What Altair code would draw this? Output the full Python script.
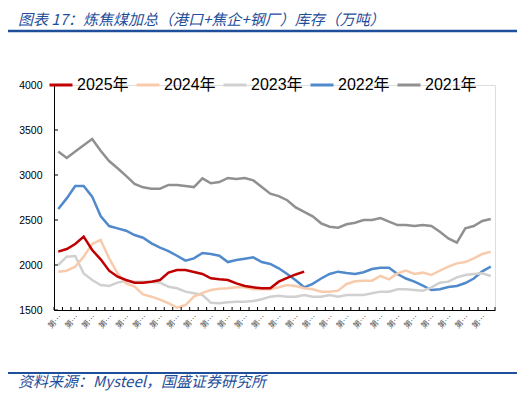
import altair as alt
import pandas as pd

weeks = [f"第{i}周" for i in range(1, 53)]
years = ["2025年", "2024年", "2023年", "2022年", "2021年"]
colors = ["#C00000", "#F8CBAD", "#D0D0D0", "#5089CC", "#909090"]

y2021 = [3260, 3190, 3260, 3330, 3400, 3270, 3155, 3075, 2990, 2900,
         2863, 2848, 2848, 2890, 2890, 2878, 2866, 2963, 2908, 2922,
         2967, 2955, 2967, 2940, 2866, 2792, 2765, 2720, 2640, 2590,
         2540, 2463, 2426, 2415, 2452, 2470, 2500, 2500, 2522, 2481,
         2444, 2444, 2433, 2444, 2433, 2370, 2296, 2248, 2407, 2433,
         2489, 2511]
y2022 = [2622, 2740, 2878, 2878, 2760, 2544, 2433, 2407, 2381, 2333,
         2303, 2241, 2192, 2155, 2103, 2048, 2074, 2133, 2122, 2103,
         2033, 2055, 2070, 2085, 2033, 2011, 1963, 1900, 1830, 1752,
         1790, 1850, 1900, 1926, 1910, 1900, 1920, 1955, 1970, 1970,
         1900, 1850, 1815, 1770, 1722, 1730, 1755, 1767, 1800, 1850,
         1930, 1981]
y2023 = [2000, 2093, 2100, 1907, 1833, 1778, 1767, 1804, 1826, 1815,
         1815, 1815, 1804, 1759, 1741, 1704, 1685, 1667, 1581, 1574,
         1585, 1593, 1593, 1600, 1619, 1648, 1659, 1648, 1648, 1667,
         1648, 1648, 1667, 1648, 1667, 1667, 1667, 1685, 1704, 1704,
         1730, 1730, 1722, 1715, 1752, 1804, 1815, 1863, 1889, 1900,
         1907, 1878]
y2024 = [1926, 1937, 1981, 2093, 2233, 2278, 2074, 1907, 1796, 1759,
         1674, 1648, 1615, 1575, 1525, 1555, 1650, 1690, 1722, 1737,
         1741, 1752, 1752, 1730, 1730, 1730, 1752, 1778, 1767, 1741,
         1730, 1704, 1704, 1715, 1789, 1819, 1826, 1826, 1878, 1841,
         1907, 1937, 1900, 1915, 1889, 1937, 1981, 2018, 2033, 2074,
         2122, 2148]
y2025 = [2148, 2178, 2233, 2315, 2167, 2063, 1937, 1870, 1833, 1804,
         1804, 1815, 1833, 1915, 1944, 1944, 1922, 1900, 1852, 1841,
         1833, 1796, 1767, 1752, 1741, 1741, 1815, 1858, 1895, 1926]

yticks = [1500, 2000, 2500, 3000, 3500, 4000]
title_text = "图表 17：炼焦煤加总（港口+焦企+钢厂）库存（万吨）"
source_text = "资料来源：Mysteel，国盛证券研究所"

series = {"2021年": y2021, "2022年": y2022, "2023年": y2023,
          "2024年": y2024, "2025年": y2025}
rows = []
for yr in ["2021年", "2022年", "2023年", "2024年", "2025年"]:
    for w, v in zip(weeks, series[yr]):
        rows.append({"week": w, "year": yr, "value": v})
df = pd.DataFrame(rows)

W, H = 441, 225
BLUE = "#1F4E9A"
LATIN = "Liberation Sans, Noto Sans CJK SC"
CJK = "Noto Sans CJK SC"

xscale = alt.Scale(type="band", domain=weeks, paddingInner=0, paddingOuter=0)
yscale = alt.Scale(domain=[1500, 4000], nice=False, zero=False)
xaxis = alt.Axis(values=weeks[::2], labelAngle=-45, labelFontSize=8,
                 labelLimit=16, labelColor="#595959", ticks=False,
                 domainColor="#000000", domainWidth=1, labelPadding=3,
                 title=None, labelFont=CJK, grid=False)
yaxis = alt.Axis(values=yticks, ticks=False, labelPadding=12, format="d",
                 domainColor="#000000", domainWidth=1, labelFontSize=10.5,
                 labelColor="#000000", title=None, grid=False,
                 labelFont=LATIN)

lines = alt.Chart(df).mark_line(strokeWidth=2.5).encode(
    x=alt.X("week:N", scale=xscale, sort=weeks, axis=xaxis),
    y=alt.Y("value:Q", scale=yscale, axis=yaxis),
    color=alt.Color("year:N", scale=alt.Scale(domain=years, range=colors),
                    legend=alt.Legend(orient="none", legendX=-6, legendY=-13,
                                      direction="horizontal", title=None,
                                      symbolType="stroke", symbolStrokeWidth=3,
                                      symbolSize=529, labelFontSize=16,
                                      labelFont=LATIN, labelColor="#000000",
                                      labelOffset=3, columnPadding=1)),
)

xt = alt.Chart(pd.DataFrame({"week": weeks})).mark_rule(color="#000000", strokeWidth=1).encode(
    x=alt.X("week:N", scale=xscale, bandPosition=0, axis=xaxis),
    y=alt.value(H - 3), y2=alt.value(H))
xt_end = alt.Chart(pd.DataFrame({"week": weeks[-1:]})).mark_rule(color="#000000", strokeWidth=1).encode(
    x=alt.X("week:N", scale=xscale, bandPosition=1, axis=xaxis),
    y=alt.value(H - 3), y2=alt.value(H))
yt = alt.Chart(pd.DataFrame({"value": yticks})).mark_rule(color="#000000", strokeWidth=1).encode(
    y=alt.Y("value:Q", scale=yscale, axis=yaxis),
    x=alt.value(0), x2=alt.value(4))

title = alt.Chart(pd.DataFrame({"t": [title_text]})).mark_text(
    align="left", baseline="middle", fontSize=15, fontStyle="italic",
    color=BLUE, font=CJK).encode(x=alt.value(-36), y=alt.value(-65), text="t:N")
top_rule = alt.Chart(pd.DataFrame({"a": [0]})).mark_rule(color=BLUE, strokeWidth=2.5).encode(
    x=alt.value(-46), x2=alt.value(463), y=alt.value(-54))
bot_rule = alt.Chart(pd.DataFrame({"a": [0]})).mark_rule(color=BLUE, strokeWidth=2).encode(
    x=alt.value(-46), x2=alt.value(463), y=alt.value(288))
source = alt.Chart(pd.DataFrame({"t": [source_text]})).mark_text(
    align="left", baseline="middle", fontSize=15, fontStyle="italic",
    color=BLUE, font=CJK).encode(x=alt.value(-36), y=alt.value(297), text="t:N")

chart = alt.layer(lines, xt, xt_end, yt, title, top_rule, bot_rule, source).properties(
    width=W, height=H,
    padding={"left": 46, "top": 77, "right": 22, "bottom": 81},
    autosize=alt.AutoSizeParams(type="none"),
).configure_view(stroke=None).configure(background="#ffffff")

chart.save("out.html", embed_options={"renderer": "svg", "actions": False})
